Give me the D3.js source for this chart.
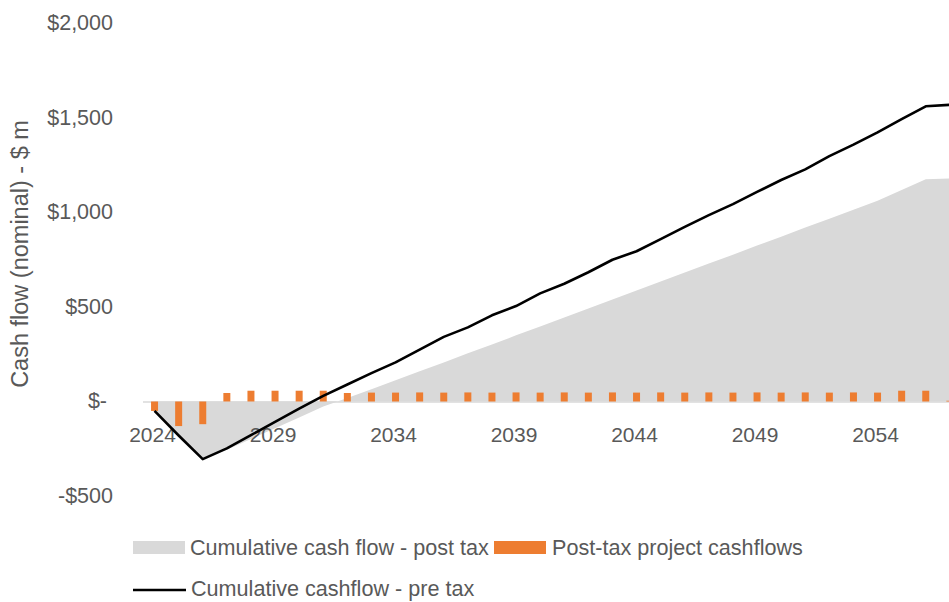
<!DOCTYPE html>
<html>
<head>
<meta charset="utf-8">
<script src="https://cdn.jsdelivr.net/npm/d3@7"></script>
<style>
  html, body { margin: 0; padding: 0; background: #ffffff; }
  svg { display: block; font-family: "Liberation Sans", Arial, sans-serif; }
</style>
</head>
<body>
<svg id="chart" width="949" height="602"></svg>
<script>
// Project years (category axis)
const years = [
  2024, 2025, 2026, 2027, 2028, 2029, 2030, 2031, 2032, 2033,
  2034, 2035, 2036, 2037, 2038, 2039, 2040, 2041, 2042, 2043,
  2044, 2045, 2046, 2047, 2048, 2049, 2050, 2051, 2052, 2053,
  2054, 2055, 2056, 2057
];

// Annual post-tax project cashflows, $m
const postTaxCashflows = [
  -50, -130, -120, 45, 57, 57, 57, 57, 45, 47,
  47, 48, 47, 48, 47, 48, 47, 48, 47, 48,
  47, 48, 47, 48, 47, 48, 47, 48, 47, 48,
  47, 57, 57, 4
];

// Cumulative cash flow after tax, $m
const cumulativePostTax = [
  -50, -180, -300, -255, -198, -141, -84, -27, 18, 65,
  112, 160, 207, 255, 302, 350, 397, 445, 492, 540,
  587, 635, 682, 730, 777, 825, 872, 920, 967, 1015,
  1062, 1119, 1176, 1180
];

// Cumulative cash flow before tax, $m
const cumulativePreTax = [
  -50, -180, -305, -248, -178, -108, -38, 30, 90, 150,
  207, 275, 342, 392, 456, 505, 572, 623, 684, 750,
  795, 859, 924, 986, 1044, 1109, 1172, 1228, 1298, 1359,
  1424, 1494, 1562, 1570
];

// Axis ticks
const yTicks = [-500, 0, 500, 1000, 1500, 2000];
const xTickYears = [2024, 2029, 2034, 2039, 2044, 2049, 2054];

const seriesNames = [
  "Cumulative cash flow - post tax",
  "Post-tax project cashflows",
  "Cumulative cashflow - pre tax"
];
const yTitle = "Cash flow (nominal) - $ m";

const colors = { area: "#d9d9d9", bar: "#ed7d31", line: "#000000", text: "#595959", axis: "#d9d9d9" };

const svg = d3.select("#chart");

const plotLeft = 142.5;
const step = 24.1;
const x = d3.scaleBand()
  .domain(years)
  .range([plotLeft, plotLeft + step * years.length])
  .paddingInner(0.71)
  .paddingOuter(0.355);
const cx = d => x(d) + x.bandwidth() / 2;

const y = d3.scaleLinear().domain([-500, 2000]).range([496, 23.5]);

const rows = years.map((yr, i) => ({
  year: yr,
  flow: postTaxCashflows[i],
  post: cumulativePostTax[i],
  pre: cumulativePreTax[i]
}));

// Cumulative post-tax area
svg.append("path")
  .datum(rows)
  .attr("fill", colors.area)
  .attr("d", d3.area().x(d => cx(d.year)).y0(y(0)).y1(d => y(d.post)));

// Y tick labels (accounting style)
const fmt = v => v === 0 ? "$-" : (v < 0 ? "-$" : "$") + d3.format(",")(Math.abs(v));
const yAxis = svg.append("g")
  .attr("transform", "translate(113,0)")
  .call(d3.axisLeft(y).tickValues(yTicks).tickFormat(fmt).tickSize(0).tickPadding(0));
yAxis.select(".domain").remove();
yAxis.selectAll("text")
  .attr("fill", colors.text)
  .attr("font-size", 21.5)
  .attr("font-family", "'Liberation Sans', Arial, sans-serif")
  .attr("dy", "0.3em")
  .attr("x", d => d === 0 ? -6 : 0);

// Category axis at zero
const xAxis = svg.append("g")
  .attr("transform", `translate(0,${y(0)})`)
  .call(d3.axisBottom(x).tickValues(xTickYears).tickSize(0).tickSizeOuter(0).tickPadding(0));
xAxis.select(".domain").attr("stroke", colors.axis).attr("stroke-width", 1.5);
xAxis.selectAll("text")
  .attr("fill", colors.text)
  .attr("font-size", 21)
  .attr("font-family", "'Liberation Sans', Arial, sans-serif")
  .attr("y", 33)
  .attr("dy", "0.35em")
  .attr("dx", -2);

// Annual cashflow bars
svg.append("g")
  .selectAll("rect")
  .data(rows)
  .join("rect")
  .attr("fill", colors.bar)
  .attr("x", d => x(d.year))
  .attr("width", x.bandwidth())
  .attr("y", d => y(Math.max(0, d.flow)))
  .attr("height", d => Math.abs(y(d.flow) - y(0)));

// Cumulative pre-tax line
svg.append("path")
  .datum(rows)
  .attr("fill", "none")
  .attr("stroke", colors.line)
  .attr("stroke-width", 2.6)
  .attr("stroke-linejoin", "round")
  .attr("d", d3.line().x(d => cx(d.year)).y(d => y(d.pre)));

// Axis title
svg.append("text")
  .attr("transform", "translate(28,254) rotate(-90)")
  .attr("text-anchor", "middle")
  .attr("fill", colors.text)
  .attr("font-size", 23.5)
  .text(yTitle);

// Legend
const legend = svg.append("g").attr("font-size", 21.6).attr("fill", colors.text);
legend.append("rect").attr("x", 133).attr("y", 541).attr("width", 52).attr("height", 13).attr("fill", colors.area);
legend.append("text").attr("x", 190).attr("y", 547.5).attr("dy", "0.35em").text(seriesNames[0]);
legend.append("rect").attr("x", 494).attr("y", 541).attr("width", 52).attr("height", 13).attr("fill", colors.bar);
legend.append("text").attr("x", 552).attr("y", 547.5).attr("dy", "0.35em").text(seriesNames[1]);
legend.append("line").attr("x1", 133).attr("x2", 186).attr("y1", 590).attr("y2", 590)
  .attr("stroke", colors.line).attr("stroke-width", 2.6);
legend.append("text").attr("x", 191).attr("y", 589).attr("dy", "0.33em").text(seriesNames[2]);
</script>
</body>
</html>
